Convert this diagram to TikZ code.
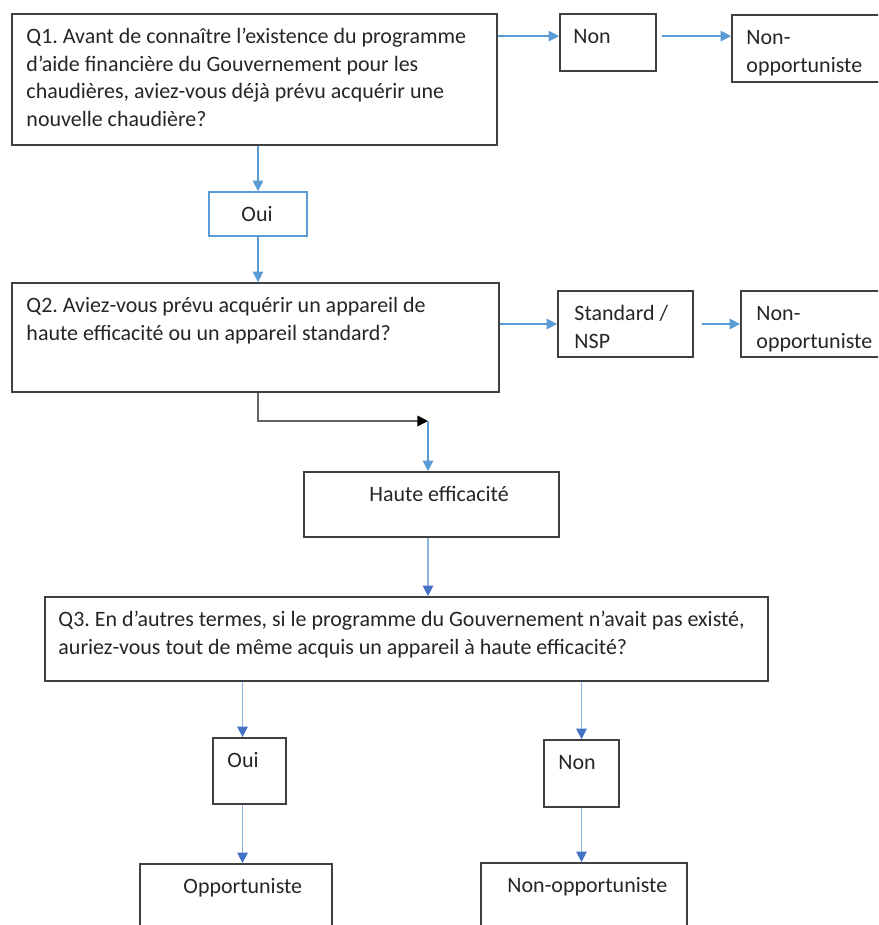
\documentclass[tikz,border=0pt]{standalone}
\usepackage{fontspec}
\setmainfont{Carlito}
\usetikzlibrary{calc,arrows.meta}
\frenchspacing

\definecolor{flowblue}{HTML}{5B9BD5}
\definecolor{flowline}{HTML}{8EB4E3}
\definecolor{tipblue}{HTML}{4472C4}

\begin{document}
\begin{tikzpicture}[x=0.02cm,y=-0.02cm]

	\tikzset{boxstyle/.style={draw=black!75,line width=1pt,fill=white,rectangle,inner sep=0pt}}
	\tikzset{textstyle/.style={font=\fontsize{12.5}{15.7}\selectfont,text=black!85,align=left,inner sep=0pt}}
	\tikzset{flow/.style={draw=flowblue,line width=0.8pt,-{Triangle[length=6pt,width=6pt]}}}
	\tikzset{flowdark/.style={draw=flowline,line width=0.8pt,-{Triangle[length=6pt,width=6pt,color=tipblue]}}}
	\tikzset{elbowflow/.style={draw=black!60,line width=0.8pt,-{Triangle[length=6pt,width=6pt,color=black]}}}

	\newcommand\flowBox[8][] % [options]{name}{left}{top}{right}{bottom}{text offset}{text}
	{
		\node[boxstyle,#1,minimum width={(#5-#3)*0.02cm},minimum height={(#6-#4)*0.02cm}]
		at ({(#3+#5)/2},{(#4+#6)/2}) (#2) {};
		\node[textstyle,anchor=north west] at ($(#2.north west)+(#7,11)$) (#2text) {\strut#8};
	}

	\clip (0,0) rectangle (878,925);

	\flowBox{q1}{12}{14}{497}{145}{15}{Q1. Avant de connaître l’existence du programme\\
		d’aide financière du Gouvernement pour les\\
		chaudières, aviez-vous déjà prévu acquérir une\\
		nouvelle chaudière?}
	\flowBox{nonA}{560}{14}{656}{71}{14}{Non}
	\flowBox{nonoppA}{732}{15}{892}{82}{15}{Non-\\opportuniste}
	\flowBox[draw=flowblue]{ouiA}{209}{192}{307}{236}{33}{Oui}

	\flowBox{q2}{12}{283}{499}{392}{15}{Q2. Aviez-vous prévu acquérir un appareil de\\
		haute efficacité ou un appareil standard?}
	\flowBox{standard}{558}{291}{693}{357}{17}{Standard /\\NSP}
	\flowBox{nonoppB}{741}{291}{892}{357}{16}{Non-\\opportuniste}

	\flowBox{haute}{304}{472}{559}{537}{66}{Haute efficacité}

	\flowBox{q3}{45}{597}{768}{681}{14}{Q3. En d’autres termes, si le programme du Gouvernement n’avait pas existé,\\
		auriez-vous tout de même acquis un appareil à haute efficacité?}
	\flowBox{ouiB}{213}{738}{286}{804}{15}{Oui}
	\flowBox{nonB}{544}{740}{619}{807}{15}{Non}
	\flowBox{opp}{140}{864}{332}{945}{44}{Opportuniste}
	\flowBox{nonoppC}{481}{863}{687}{945}{27}{Non-opportuniste}

	\coordinate (elbow) at (428,421);

	\draw[flow] ($(q1.north east)+(0,23)$) -- ($(nonA.north west)+(0,23)$);
	\draw[flow] ($(nonA.north east)+(5,23)$) -- ($(nonoppA.north west)+(0,22)$);
	\draw[flow] (q1.south -| ouiA.north) -- (ouiA.north);
	\draw[flow] (ouiA.south) -- (ouiA.south |- q2.north);

	\draw[flow] (q2.east |- standard.west) -- (standard.west);
	\draw[flow] ($(standard.east)+(8,0)$) -- (nonoppB.west);
	\draw[elbowflow] (q2.south -| ouiA.south) |- (elbow);
	\draw[flow] (elbow) -- (elbow |- haute.north);

	\draw[flowdark] (haute.south -| elbow) -- (elbow |- q3.north);
	\draw[flowdark] ($(q3.south -| ouiB.north)+(-7,0)$) -- ($(ouiB.north)+(-7,0)$);
	\draw[flowdark] (q3.south -| nonB.north) -- (nonB.north);
	\draw[flowdark] ($(ouiB.south)+(-7,0)$) -- ($(ouiB.south |- opp.north)+(-7,0)$);
	\draw[flowdark] (nonB.south) -- (nonB.south |- nonoppC.north);

\end{tikzpicture}
\end{document}
